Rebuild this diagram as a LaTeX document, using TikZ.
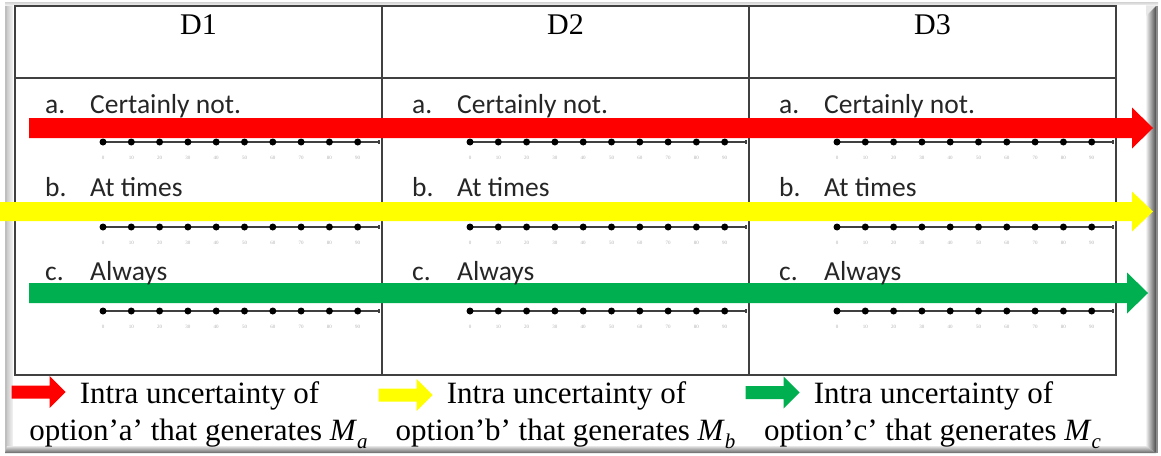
\documentclass[tikz,border=0pt]{standalone}
\usepackage{fontspec}
\setmainfont{Liberation Serif}
\newfontfamily\rowfont{Carlito}
\usetikzlibrary{calc}

\definecolor{arrowred}{RGB}{255,0,0}
\definecolor{arrowyellow}{RGB}{255,255,0}
\definecolor{arrowgreen}{RGB}{0,176,80}

% block arrow: colour, start, tip, shaft half-height, head length, head half-height
\newcommand\fatarrow[6]{%
  \fill[#1] ($(#2)+(0,#4)$) -- ($(#3)+(-#5,#4)$) -- ($(#3)+(-#5,#6)$) -- (#3)
    -- ($(#3)+(-#5,-#6)$) -- ($(#3)+(-#5,-#4)$) -- ($(#2)+(0,-#4)$) -- cycle;}

% italic symbol with italic subscript
\newcommand\msym[2]{\textit{#1}\raisebox{-0.28em}{\fontsize{21}{21}\selectfont\textit{#2}}}

\tikzset{
  grid line/.style={draw=black!75, line width=1.4pt},
  head/.style={font=\fontsize{30}{32}\selectfont, anchor=base, inner sep=0pt},
  opt/.style={font=\rowfont\fontsize{27.5}{30}\selectfont, text=black!85, anchor=base west, inner sep=0pt},
  scale line/.style={draw=black!75, line width=1.2pt},
  scale dot/.style={circle, fill=black, inner sep=0pt, minimum size=7pt},
  scale num/.style={font=\fontsize{5}{5}\selectfont, text=gray!60, inner sep=0pt},
  legend/.style={font=\fontsize{31}{34}\selectfont, anchor=base, inner sep=0pt},
}

\begin{document}
\begin{tikzpicture}[x=1pt,y=-1pt]
\useasboundingbox (0,0) rectangle (1161,455);

% raised panel
\fill[gray!18] (5,2) rectangle (1158,453);
\shade[left color=gray!50, right color=gray!8] (5,3) rectangle (13,451);
\fill[gray!50] (5,3) rectangle (6.5,451);
\shade[top color=gray!35, bottom color=gray!12] (5,2) rectangle (1158,5);
\shade[left color=gray!10, right color=black!70] (1146,16) -- (1156,6) -- (1156,453) -- (1146,446) -- cycle;
\fill[black!45] (1156,6) rectangle (1158,453);
\shade[top color=gray!20, bottom color=black!60] (7,446) -- (1146,446) -- (1156,453) -- (5,453) -- cycle;
\fill[white] (13,5) rectangle (1146,446);

% table
\draw[grid line] (15,6) rectangle (1116,375);
\draw[grid line] (15,78) -- (1116,78);
\draw[grid line] (382,6) -- (382,375);
\draw[grid line] (749,6) -- (749,375);

% headers and answer scales
\foreach \ci/\lx/\hd in {1/15/D1, 2/382/D2, 3/749/D3} {
  \node[head] (h\ci) at (\lx+183.5,34) {\hd};
  \foreach \ri/\yd in {a/142, b/227, c/311} {
    \draw[scale line] (\lx+88,\yd) -- (\lx+364,\yd);
    \draw[scale line] (\lx+364,\yd-2) -- (\lx+364,\yd+2);
    \foreach \k in {0,...,9} {
      \node[scale dot] (dot-\ci\ri\k) at (\lx+88+\k*28.3,\yd) {};
      \pgfmathtruncatemacro\vv{10*\k}
      \node[scale num] (num-\ci\ri\k) at (\lx+88+\k*28.3,\yd+16) {\vv};
    }
  }
}

% uncertainty arrows across the three columns
\coordinate (ra-s) at (29,128);  \coordinate (ra-e) at (1153,128);
\coordinate (ya-s) at (0,211.5); \coordinate (ya-e) at (1153,211.5);
\coordinate (ga-s) at (29,293);  \coordinate (ga-e) at (1148,293);
\fatarrow{arrowred}{ra-s}{ra-e}{10}{21}{20.5}
\fatarrow{arrowyellow}{ya-s}{ya-e}{9.5}{21}{20}
\fatarrow{arrowgreen}{ga-s}{ga-e}{10}{21}{20.5}

% answer options
\foreach \ci/\lx in {1/15, 2/382, 3/749} {
  \foreach \ri/\lab/\txt/\yb in {a/a./Certainly not./113, b/b./At times/196, c/c./Always/280} {
    \node[opt] (l\ci\ri) at (\lx+30,\yb) {\lab};
    \node[opt] (o\ci\ri) at (\lx+75,\yb) {\txt};
  }
}

% legend
\foreach \ci/\lx/\col/\ov/\ay in {1/15/arrowred/a/392, 2/382/arrowyellow/b/395, 3/749/arrowgreen/c/392.5} {
  \node[legend] (lg\ci a) at (\lx+184.5,403) {Intra uncertainty of};
  \node[legend] (lg\ci b) at (\lx+183.5,440) {option’\ov’ that generates \msym{M}{\ov}};
  \path let \p1=(lg\ci a.west), \p2=(0,\ay) in coordinate (lt\ci) at (\x1-14pt,\y2);
  \coordinate (ls\ci) at ($(lt\ci)+(-54,0)$);
  \fatarrow{\col}{ls\ci}{lt\ci}{6.5}{16}{16}
}
\end{tikzpicture}
\end{document}
